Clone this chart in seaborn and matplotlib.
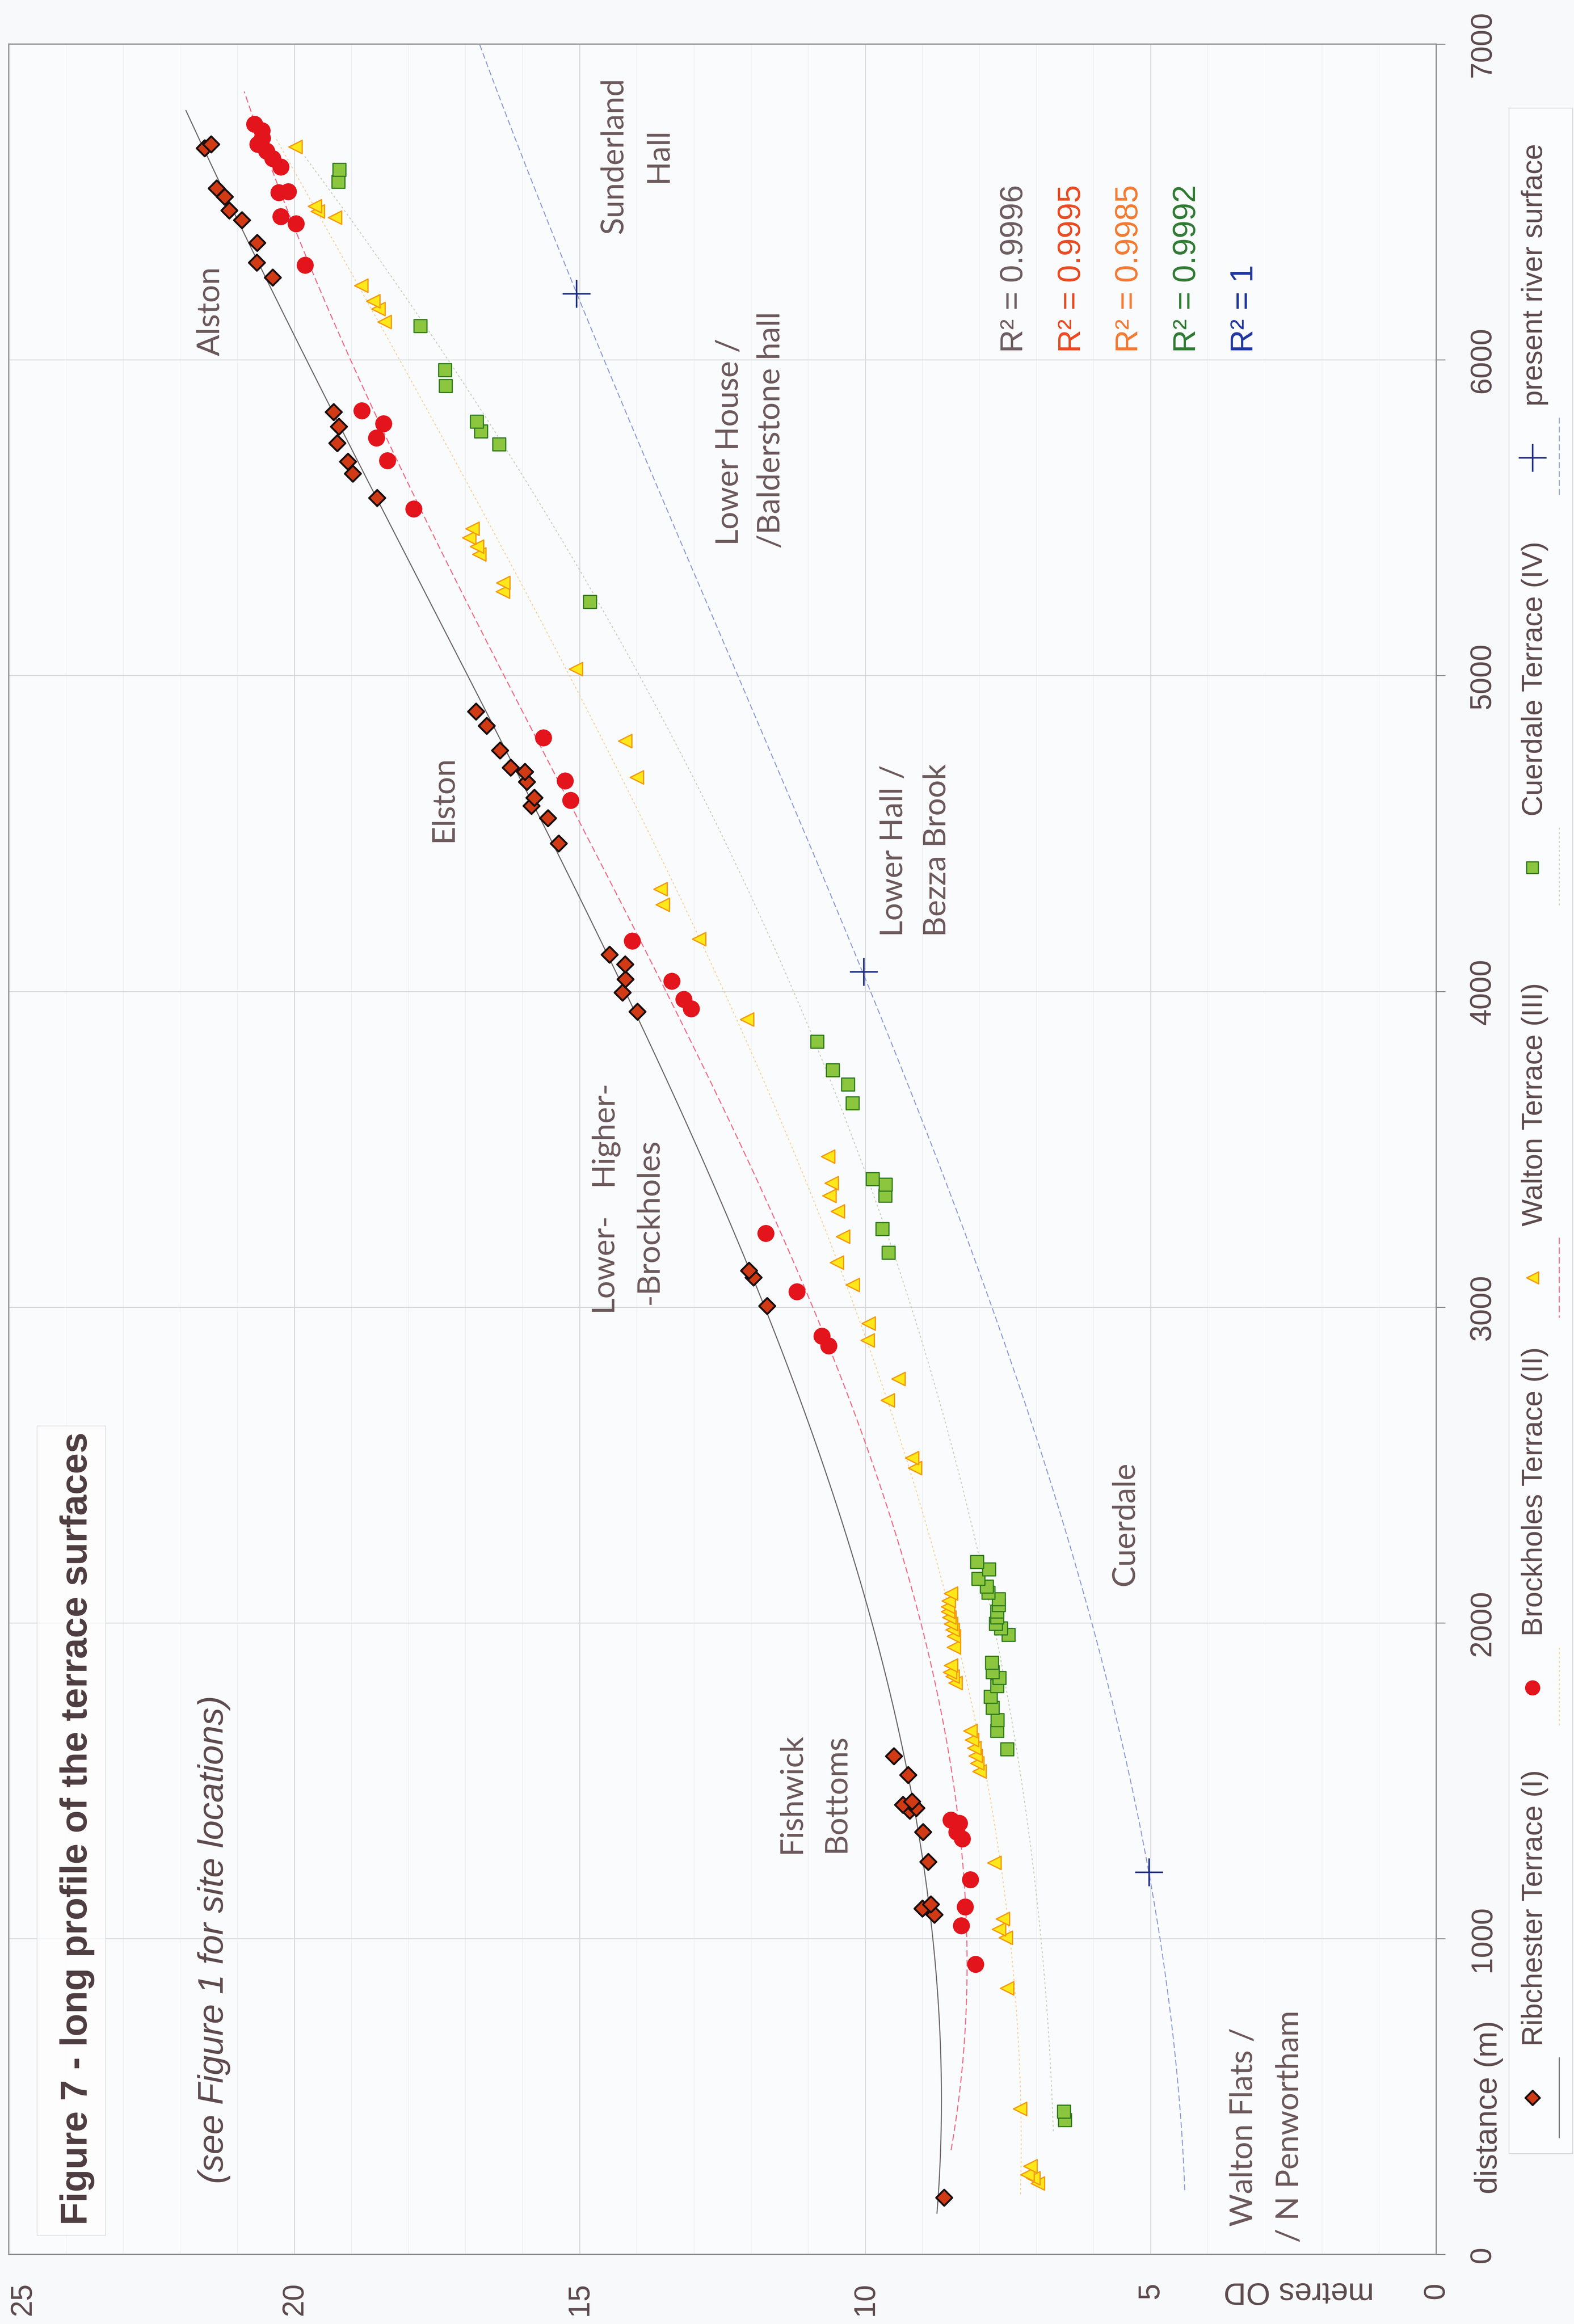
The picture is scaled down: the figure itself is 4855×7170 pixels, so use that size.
import numpy as np
import pandas as pd
import matplotlib
matplotlib.use("Agg")
import matplotlib.pyplot as plt
import seaborn as sns
from matplotlib.patches import Rectangle
from matplotlib.ticker import MultipleLocator

# ---- values: distance (m) and height (metres OD) ----
rib_dist = [180, 1076, 1095, 1109, 1243, 1338, 1405, 1414, 1424, 1434, 1518, 1578,
            3004, 3094, 3116, 3936, 3996, 4039, 4086, 4117, 4469, 4549, 4588, 4613,
            4664, 4696, 4709, 4763, 4841, 4886, 5563, 5640, 5678, 5736, 5789, 5835,
            6261, 6308, 6371, 6443, 6474, 6517, 6543, 6671, 6683]
rib_height = [8.62, 8.79, 9.00, 8.85, 8.90, 8.99, 9.22, 9.11, 9.34, 9.18, 9.25, 9.50,
              11.72, 11.96, 12.04, 13.99, 14.25, 14.20, 14.21, 14.48, 15.37, 15.56, 15.85, 15.80,
              15.93, 15.96, 16.21, 16.40, 16.63, 16.82, 18.55, 18.98, 19.06, 19.25, 19.22, 19.31,
              20.38, 20.66, 20.65, 20.92, 21.14, 21.22, 21.36, 21.57, 21.46]

brock_dist = [919, 1041, 1101, 1187, 1316, 1338, 1365, 1376, 2878, 2908, 3049, 3234,
              3945, 3975, 4032, 4160, 4605, 4667, 4803, 5528, 5681, 5753, 5798, 5839,
              6300, 6431, 6454, 6530, 6533, 6611, 6638, 6661, 6683, 6703, 6726, 6747]
brock_height = [8.07, 8.32, 8.25, 8.16, 8.30, 8.40, 8.35, 8.50, 10.64, 10.76, 11.20, 11.74,
                13.05, 13.18, 13.39, 14.08, 15.16, 15.26, 15.64, 17.91, 18.37, 18.56, 18.44, 18.82,
                19.81, 19.97, 20.24, 20.27, 20.11, 20.24, 20.38, 20.49, 20.64, 20.56, 20.57, 20.70]

walton_dist = [225, 241, 253, 279, 461, 843, 1003, 1030, 1063, 1240,
               1530, 1555, 1579, 1604, 1629, 1658, 1810, 1830, 1844, 1865,
               1923, 1958, 1978, 1997, 2017, 2036, 2051, 2070, 2093,
               2490, 2522, 2705, 2773, 2895, 2948, 3071, 3141, 3223, 3304, 3353, 3393, 3477,
               3911, 4166, 4275, 4324, 4678, 4793, 5021, 5266, 5294, 5384, 5409, 5437, 5466,
               6120, 6162, 6186, 6235, 6451, 6471, 6487, 6675]
walton_height = [6.98, 7.06, 7.16, 7.11, 7.29, 7.52, 7.54, 7.66, 7.59, 7.74,
                 8.00, 8.04, 8.07, 8.09, 8.13, 8.16, 8.42, 8.47, 8.52, 8.50,
                 8.45, 8.45, 8.47, 8.50, 8.53, 8.55, 8.55, 8.54, 8.50,
                 9.13, 9.18, 9.61, 9.42, 9.96, 9.94, 10.22, 10.50, 10.39, 10.48, 10.63, 10.59, 10.65,
                 12.07, 12.91, 13.55, 13.59, 14.00, 14.21, 15.07, 16.35, 16.34, 16.76, 16.80, 16.94, 16.88,
                 18.42, 18.53, 18.62, 18.83, 19.29, 19.59, 19.64, 19.98]

cuer_dist = [425, 452, 1599, 1658, 1692, 1731, 1766, 1800, 1825, 1844, 1874,
             1962, 1982, 1997, 2017, 2036, 2056, 2075, 2095, 2115, 2139, 2169, 2193,
             3172, 3247, 3353, 3388, 3405, 3645, 3705, 3750, 3840,
             5233, 5732, 5773, 5804, 5917, 5967, 6107, 6564, 6602]
cuer_height = [6.50, 6.52, 7.51, 7.69, 7.68, 7.77, 7.80, 7.69, 7.65, 7.77, 7.78,
               7.49, 7.62, 7.71, 7.69, 7.69, 7.66, 7.66, 7.84, 7.87, 8.02, 7.83, 8.04,
               9.59, 9.70, 9.65, 9.64, 9.87, 10.22, 10.30, 10.57, 10.84,
               14.82, 16.41, 16.73, 16.80, 17.35, 17.36, 17.79, 19.23, 19.21]

river_dist = [1210, 4062, 6210]
river_height = [5.03, 10.03, 15.06]
# trend line of the present river surface
river_trend_dist = [203, 1210, 2416, 3597, 4062, 5035, 5856, 6210, 6883]
river_trend_height = [4.40, 5.03, 6.73, 9.00, 10.03, 12.31, 14.27, 15.06, 16.50]

terrace_names = ["Ribchester Terrace (I)", "Brockholes Terrace (II)", "Walton Terrace (III)",
                 "Cuerdale Terrace (IV)", "present river surface"]
r2_labels = ["R\u00b2 = 0.9996", "R\u00b2 = 0.9995", "R\u00b2 = 0.9985", "R\u00b2 = 0.9992", "R\u00b2 = 1"]
# extent of each fitted trend line (m)
trend_from = [130, 330, 190, 390]
trend_to = [6790, 6850, 6700, 6650]
height_ticks = [0, 5, 10, 15, 20, 25]

# ---- styling ----
sns.set_theme(style="white")
plt.rcParams["font.family"] = ["Liberation Sans", "DejaVu Sans"]

TEXT = "#5d4a4d"
W, H = 1062, 1568          # layout measured on the reference at this scale


def fx(x):
    return x / W


def fy(y):
    return 1 - y / H


fig = plt.figure(figsize=(48.55, 71.71), dpi=100, facecolor="#f7f9fb")
ax = fig.add_axes([fx(6), fy(1521), fx(969) - fx(6), fy(30) - fy(1521)])
ax.set_facecolor("#fafbfd")

frames = [
    pd.DataFrame({"distance": rib_dist, "height": rib_height}),
    pd.DataFrame({"distance": brock_dist, "height": brock_height}),
    pd.DataFrame({"distance": walton_dist, "height": walton_height}),
    pd.DataFrame({"distance": cuer_dist, "height": cuer_height}),
    pd.DataFrame({"distance": river_dist, "height": river_height}),
]

markers = ["D", "o", "<", "s", "+"]
sizes = [640, 1380, 880, 840, 3800]
fills = ["#d03a14", "#e3141c", "#ffe81a", "#8cc63f", "#1c2a80"]
edges = ["#1a0d0d", "#e3141c", "#f39a10", "#2e7a1e", "#1c2a80"]
edge_w = [4.2, 0.5, 2.8, 2.6, 3.4]

line_colors = ["#6e6868", "#f26d86", "#f7d296", "#c9d0b8", "#8c9ad8"]
line_styles = ["-", (0, (6, 3)), (0, (2, 2.5)), (0, (2, 2.5)), (0, (6, 3))]
line_w = [2.4, 2.4, 2.2, 2.2, 2.2]

# fitted trend lines (cubic, as in the original spreadsheet)
for i in range(4):
    df = frames[i]
    coef = np.polyfit(df["distance"], df["height"], 3)
    dd = np.linspace(trend_from[i], trend_to[i], 300)
    ax.plot(np.polyval(coef, dd), dd, color=line_colors[i], ls=line_styles[i],
            lw=line_w[i], zorder=3)
coef = np.polyfit(river_trend_dist, river_trend_height, 3)
dd = np.linspace(river_trend_dist[0], 7000, 300)
ax.plot(np.polyval(coef, dd), dd, color=line_colors[4], ls=line_styles[4], lw=line_w[4], zorder=3)

for i, df in enumerate(frames):
    if markers[i] == "+":
        sns.scatterplot(data=df, x="height", y="distance", marker="+", s=sizes[i],
                        color=fills[i], linewidth=edge_w[i], ax=ax, zorder=6)
    else:
        sns.scatterplot(data=df, x="height", y="distance", marker=markers[i], s=sizes[i],
                        color=fills[i], edgecolor=edges[i], linewidth=edge_w[i],
                        ax=ax, zorder=4 + (i == 1))

ax.set_xlim(25, 0)
ax.set_ylim(0, 7000)
ax.set_xlabel("")
ax.set_ylabel("")
ax.set_xticks(height_ticks)
ax.xaxis.set_minor_locator(MultipleLocator(1))
ax.yaxis.set_major_locator(MultipleLocator(1000))
ax.yaxis.tick_right()
ax.grid(True, which="major", color="#d6d8dc", lw=2.2, zorder=0)
ax.grid(True, which="minor", axis="x", color="#eef0f3", lw=1.4, zorder=0)
ax.set_axisbelow(True)
for sp in ax.spines.values():
    sp.set_color("#8c8a8c")
    sp.set_linewidth(2.6)
ax.tick_params(which="major", direction="out", length=20, width=2.2, color="#8c8a8c",
               labelsize=66, labelcolor=TEXT)
ax.tick_params(which="minor", length=0)
ax.tick_params(axis="x", pad=42, labelrotation=90)
ax.tick_params(axis="y", pad=52, labelrotation=90)
for lab in ax.get_yticklabels():
    lab.set_va("center")
    lab.set_ha("left")
# the outermost height label sits against the page edge, as in the original
ax.get_xticklabels()[-1].set_ha("left")

# axis titles
fig.text(fx(1010), fy(1480), "distance (m)", rotation=90, rotation_mode="anchor",
         ha="left", va="baseline", fontsize=70, color=TEXT)
fig.text(fx(927), fy(1540), "metres OD", rotation=180, rotation_mode="anchor",
         ha="left", va="baseline", fontsize=69, color=TEXT)

# title box
fig.add_artist(Rectangle((fx(25), fy(1508)), fx(71) - fx(25), fy(962) - fy(1508),
                         transform=fig.transFigure, facecolor="#ffffff", alpha=0.7,
                         edgecolor="#d9d9dc", lw=2, zorder=2))
fig.text(fx(58.6), fy(1501), "Figure 7 - long profile of the terrace surfaces", rotation=90,
         rotation_mode="anchor", ha="left", va="baseline", fontsize=83,
         fontweight="bold", color="#4e3d40", zorder=4)
fig.text(fx(150.5), fy(1473), "(see Figure 1 for site locations)", rotation=90,
         rotation_mode="anchor", ha="left", va="baseline", fontsize=79,
         fontstyle="italic", color=TEXT, zorder=4)

# site names
place_lines = [
    ("Walton Flats /", 845, 1502, "left"),
    ("/ N Penwortham", 876, 1513, "left"),
    ("Fishwick", 540, 1210, "center"),
    ("Bottoms", 570, 1210, "center"),
    ("Cuerdale", 765, 1028, "center"),
    ("Lower-", 413, 885, "left"),
    ("Higher-", 413, 800, "left"),
    ("-Brockholes", 444, 880, "left"),
    ("Elston", 305, 568, "left"),
    ("Lower Hall /", 609, 632, "left"),
    ("Bezza Brook", 638, 632, "left"),
    ("Lower House /", 498, 368, "left"),
    ("/Balderstone hall", 526, 370, "left"),
    ("Alston", 148, 240, "left"),
    ("Sunderland", 420, 105, "center"),
    ("Hall", 450, 105, "center"),
]
for txt, x, y, ha in place_lines:
    fig.text(fx(x), fy(y), txt, rotation=90, rotation_mode="anchor", ha=ha,
             va="baseline", fontsize=70, color="#6b585a", family=["Lato", "DejaVu Sans"])

# R squared of each fit
r2_colors = ["#6d5d60", "#ea4a22", "#f27a32", "#2f7a32", "#1f35a0"]
for i, lab in enumerate(r2_labels):
    fig.text(fx(690 + 38.8 * i), fy(238), lab, rotation=90, rotation_mode="anchor",
             ha="left", va="baseline", fontsize=71, color=r2_colors[i])

# legend strip
lax = fig.add_axes([fx(1018), fy(1453), fx(1061) - fx(1018), fy(73) - fy(1453)])
lax.set_xlim(1018, 1061)
lax.set_ylim(1453, 73)
lax.set_facecolor("#fbfcfd")
lax.set_xticks([])
lax.set_yticks([])
for sp in lax.spines.values():
    sp.set_color("#d9dadd")
    sp.set_linewidth(2)
slot = [1415.3 - 276.6 * i for i in range(5)]
for i in range(5):
    if markers[i] == "+":
        lax.scatter([1034], [slot[i]], marker="+", s=sizes[i], color=fills[i],
                    linewidth=edge_w[i])
    else:
        lax.scatter([1034], [slot[i]], marker=markers[i], s=sizes[i] * 0.8, color=fills[i],
                    edgecolor=edges[i], linewidth=edge_w[i])
    lax.text(1040.5, slot[i] - 35, terrace_names[i], rotation=90, rotation_mode="anchor",
             ha="left", va="baseline", fontsize=64, color=TEXT)
# second legend row: trend line samples (labels clipped by the box)
trend_order = [0, 2, 1, 3, 4]
for i, k in enumerate(trend_order):
    lax.plot([1052, 1052], [slot[i] - 27, slot[i] + 27], color=line_colors[k],
             ls=line_styles[k], lw=line_w[k])

fig.savefig("out.png", dpi=100, facecolor=fig.get_facecolor())
